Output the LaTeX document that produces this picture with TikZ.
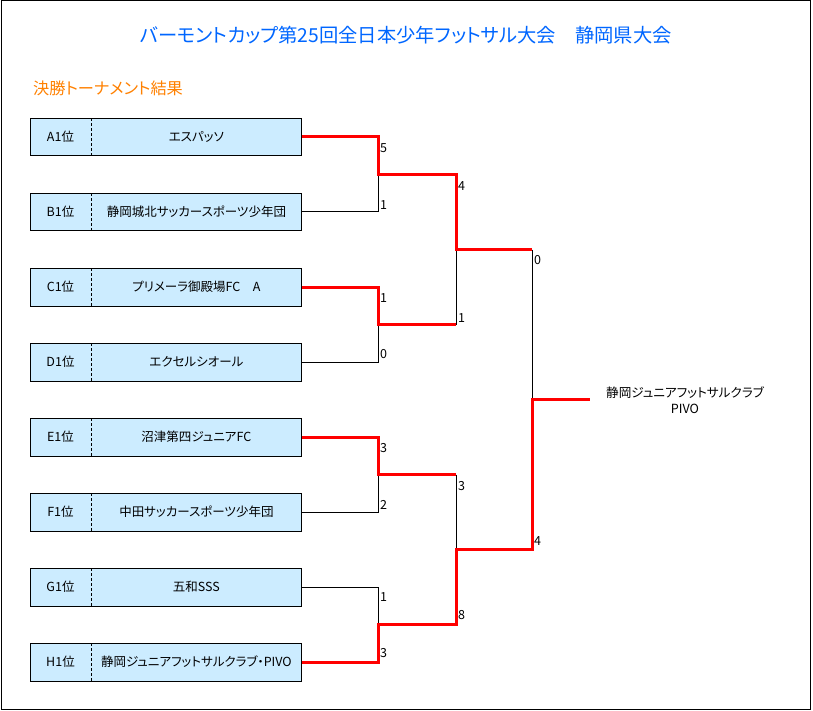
\documentclass[tikz,border=0pt]{standalone}
\usepackage{fontspec}
\setmainfont[RawFeature=+palt]{Noto Sans CJK JP}
\usepackage{tikz}
\usetikzlibrary{positioning}
\definecolor{titleblue}{RGB}{0,102,255}
\definecolor{headorange}{RGB}{255,128,0}
\definecolor{boxblue}{RGB}{204,236,255}
\tikzstyle{rankbox} = [rectangle, fill=boxblue, minimum width=61pt, minimum height=37pt, inner sep=0pt, font=\fontsize{12.5}{14}\selectfont]
\tikzstyle{namebox} = [rectangle, fill=boxblue, minimum width=210pt, minimum height=37pt, inner sep=0pt, font=\fontsize{12.5}{14}\selectfont]
\tikzstyle{divider} = [densely dashed, line width=0.8pt]
\tikzstyle{lose} = [draw=black, line width=1pt]
\tikzstyle{win} = [draw=red, line width=3pt]
\tikzstyle{score} = [anchor=west, inner sep=1pt, font=\fontsize{12.5}{14}\selectfont]
\tikzstyle{winner} = [align=center, inner sep=0pt, font=\fontsize{12.6}{16}\selectfont]

\begin{document}
\begin{tikzpicture}[x=1pt, y=1pt, node distance=75pt]
    \useasboundingbox (0,0) rectangle (813,-711);
    \draw[line width=1pt] (1,-1) rectangle (810,-709);
    \node[text=titleblue, font=\fontsize{19.3}{22}\selectfont] (title) at (406,-35) {バーモントカップ第25回全日本少年フットサル大会　静岡県大会};
    \node[text=headorange, font=\fontsize{16.2}{19}\selectfont, anchor=west, inner sep=0pt] (head) at (33,-88) {決勝トーナメント結果};
    % teams
    \node[rankbox](a1) at (60.5,-137){A1位};
    \node[namebox, right=0pt of a1](a1t){エスパッソ};
    \node[rankbox, below of=a1](b1){B1位};
    \node[namebox, right=0pt of b1](b1t){静岡城北サッカースポーツ少年団};
    \node[rankbox, below of=b1](c1){C1位};
    \node[namebox, right=0pt of c1](c1t){プリメーラ御殿場FC　A};
    \node[rankbox, below of=c1](d1){D1位};
    \node[namebox, right=0pt of d1](d1t){エクセルシオール};
    \node[rankbox, below of=d1](e1){E1位};
    \node[namebox, right=0pt of e1](e1t){沼津第四ジュニアFC};
    \node[rankbox, below of=e1](f1){F1位};
    \node[namebox, right=0pt of f1](f1t){中田サッカースポーツ少年団};
    \node[rankbox, below of=f1](g1){G1位};
    \node[namebox, right=0pt of g1](g1t){五和SSS};
    \node[rankbox, below of=g1](h1){H1位};
    \node[namebox, right=0pt of h1](h1t){静岡ジュニアフットサルクラブ・PIVO};
    \draw (a1.north west) rectangle (a1t.south east);
    \draw (b1.north west) rectangle (b1t.south east);
    \draw (c1.north west) rectangle (c1t.south east);
    \draw (d1.north west) rectangle (d1t.south east);
    \draw (e1.north west) rectangle (e1t.south east);
    \draw (f1.north west) rectangle (f1t.south east);
    \draw (g1.north west) rectangle (g1t.south east);
    \draw (h1.north west) rectangle (h1t.south east);
    \draw[divider] (a1t.north west) -- (a1t.south west);
    \draw[divider] (b1t.north west) -- (b1t.south west);
    \draw[divider] (c1t.north west) -- (c1t.south west);
    \draw[divider] (d1t.north west) -- (d1t.south west);
    \draw[divider] (e1t.north west) -- (e1t.south west);
    \draw[divider] (f1t.north west) -- (f1t.south west);
    \draw[divider] (g1t.north west) -- (g1t.south west);
    \draw[divider] (h1t.north west) -- (h1t.south west);
    % junctions
    \coordinate (ab) at (378,-174.5);
    \coordinate (cd) at (378,-324.5);
    \coordinate (ef) at (378,-474.5);
    \coordinate (gh) at (378,-624.5);
    \coordinate (abcd) at (456,-249.5);
    \coordinate (efgh) at (456,-549.5);
    \coordinate (fin) at (532,-399.5);
    \coordinate (end) at (590,-399.5);
    % losing lines
    \draw[lose] (b1t.east) -| (ab);
    \draw[lose] (d1t.east) -| (cd);
    \draw[lose] (f1t.east) -| (ef);
    \draw[lose] (g1t.east) -| (gh);
    \draw[lose] (cd -| abcd) -- (abcd);
    \draw[lose] (ef -| efgh) -- (efgh);
    \draw[lose] (abcd -| fin) -- (fin);
    % winning lines
    \draw[win] (a1t.east) -| (ab) -| (abcd) -- (abcd -| fin);
    \draw[win] (c1t.east) -| (cd) -- (cd -| abcd);
    \draw[win] (e1t.east) -| (ef) -- (ef -| efgh);
    \draw[win] (h1t.east) -| (gh) -| (efgh) -| (fin) -- (end);
    % scores
    \node[score](sa) at (379,-148){5};
    \node[score](sb) at (379,-205){1};
    \node[score](sc) at (379,-298){1};
    \node[score](sd) at (379,-354){0};
    \node[score](se) at (379,-448){3};
    \node[score](sf) at (379,-505){2};
    \node[score](sg) at (379,-597){1};
    \node[score](sh) at (379,-653){3};
    \node[score](sab) at (457,-186){4};
    \node[score](scd) at (457,-318){1};
    \node[score](sef) at (457,-486){3};
    \node[score](sgh) at (457,-615){8};
    \node[score](sup) at (533,-260){0};
    \node[score](slow) at (533,-541){4};
    \node[winner](champ) at (685,-400){静岡ジュニアフットサルクラブ\\PIVO};
\end{tikzpicture}
\end{document}
